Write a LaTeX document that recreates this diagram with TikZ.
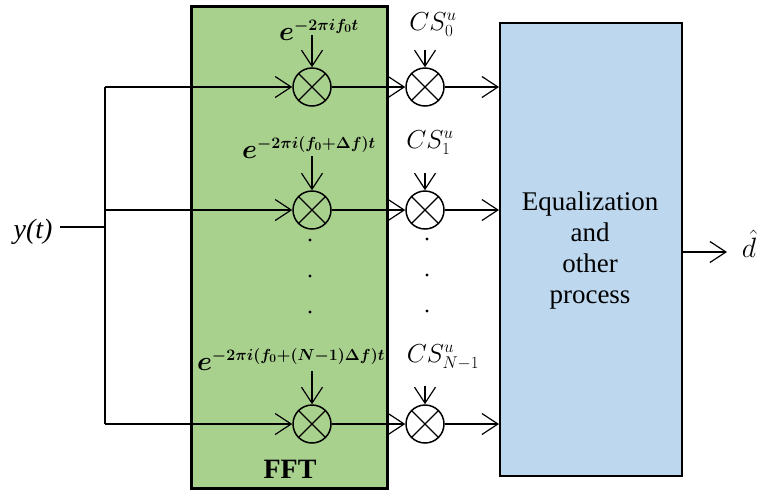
\RequirePackage{fix-cm}
\documentclass[tikz,border=0pt]{standalone}
\usepackage{amsmath,bm}
\usepackage{fontspec}
\setmainfont{Liberation Serif}
\DeclareMathSizes{27}{27}{16}{12}
\DeclareMathSizes{26}{26}{17}{13}
\DeclareMathSizes{28}{28}{20}{15}
\usetikzlibrary{arrows.meta}
\definecolor{fftgreen}{HTML}{A9D18E}
\definecolor{eqblue}{HTML}{BDD7EE}
\begin{document}
\begin{tikzpicture}[x=1pt,y=-1pt,
  wire/.style={line width=1.2pt},
  arr/.style={wire,-{Straight Barb[length=16pt,width=21pt,line width=1.2pt]}},
  mixer/.style={circle,draw,line width=1.5pt,minimum size=38pt,inner sep=0pt,
    path picture={\draw[line width=1.2pt]
      (path picture bounding box.north west) -- (path picture bounding box.south east)
      (path picture bounding box.north east) -- (path picture bounding box.south west);}},
  elabel/.style={font=\fontsize{27}{30}\selectfont\boldmath,inner sep=0pt,anchor=base},
  cslabel/.style={font=\fontsize{26}{30}\selectfont,inner sep=0pt,anchor=base},
  dotm/.style={fill=black}]
\useasboundingbox (0,0) rectangle (759,491);
% boxes
\node[draw,line width=3pt,fill=fftgreen,minimum width=196pt,minimum height=482pt,anchor=north west,inner sep=0pt] (fft) at (190,5) {};
\node[draw,line width=1.5pt,fill=eqblue,minimum width=182pt,minimum height=453pt,anchor=north west,inner sep=0pt] (eq) at (499,22) {};
\node[font=\fontsize{28}{31}\selectfont\bfseries] (ffttxt) at (290,469) {FFT};
\node[font=\fontsize{27}{31}\selectfont,align=center,inner sep=0pt] (eqtxt) at (590,250) {Equalization\\and\\other\\process};
% mixers
\node[mixer] (m11) at (312,87) {};
\node[mixer] (m12) at (425,87) {};
\node[mixer] (m21) at (312,210) {};
\node[mixer] (m22) at (425,210) {};
\node[mixer] (m31) at (312,424) {};
\node[mixer] (m32) at (425,424) {};
% labels
\node[elabel] (e1) at (319,40) {$e^{-2\pi i f_0 t}$};
\node[elabel] (e2) at (309,158) {$e^{-2\pi i (f_0+\Delta f) t}$};
\node[elabel] (e3) at (291,370) {$e^{-2\pi i (f_0+(N-1)\Delta f) t}$};
\node[cslabel] (c1) at (433,30) {$CS_0^u$};
\node[cslabel] (c2) at (430,148) {$CS_1^u$};
\node[cslabel] (c3) at (443,362) {$CS_{N-1}^u$};
% input
\node[font=\fontsize{28}{31}\selectfont\itshape,inner sep=0pt,anchor=base] (yt) at (33,238) {y(t)};
\coordinate (yend) at (60,227);
\coordinate (yin) at (105,227);
\coordinate (s1) at (105,87);
\coordinate (s2) at (105,210);
\coordinate (s3) at (105,424);
\draw[wire] (yend) -- (yin);
\draw[wire] (s1) -- (s3);
\draw[arr] (s1) -- (m11);
\draw[arr] (s2) -- (m21);
\draw[arr] (s3) -- (m31);
\draw[arr] (m11) -- (m12);
\draw[arr] (m21) -- (m22);
\draw[arr] (m31) -- (m32);
\draw[arr] (m12) -- (m12 -| eq.west);
\draw[arr] (m22) -- (m22 -| eq.west);
\draw[arr] (m32) -- (m32 -| eq.west);
% vertical inputs
\draw[arr] (m11.north) ++(0,-32) -- (m11.north);
\draw[arr] (m21.north) ++(0,-34) -- (m21.north);
\draw[arr] (m31.north) ++(0,-33) -- (m31.north);
\draw[arr] (m12.north) ++(0,-17) -- (m12.north);
\draw[arr] (m22.north) ++(0,-17) -- (m22.north);
\draw[arr] (m32.north) ++(0,-18) -- (m32.north);
% dots
\foreach \yy in {240,276,312} {
  \fill[dotm] (310,\yy) circle (1.7);
  \fill[dotm] (427,\yy-1) circle (1.7);
}
% output
\coordinate (oin) at (681,252);
\coordinate (oout) at (727,252);
\draw[arr] (oin) -- (oout);
\node[font=\fontsize{28}{31}\selectfont,inner sep=0pt,anchor=base] (dh) at (749,257) {$\hat{d}$};
\end{tikzpicture}
\end{document}
